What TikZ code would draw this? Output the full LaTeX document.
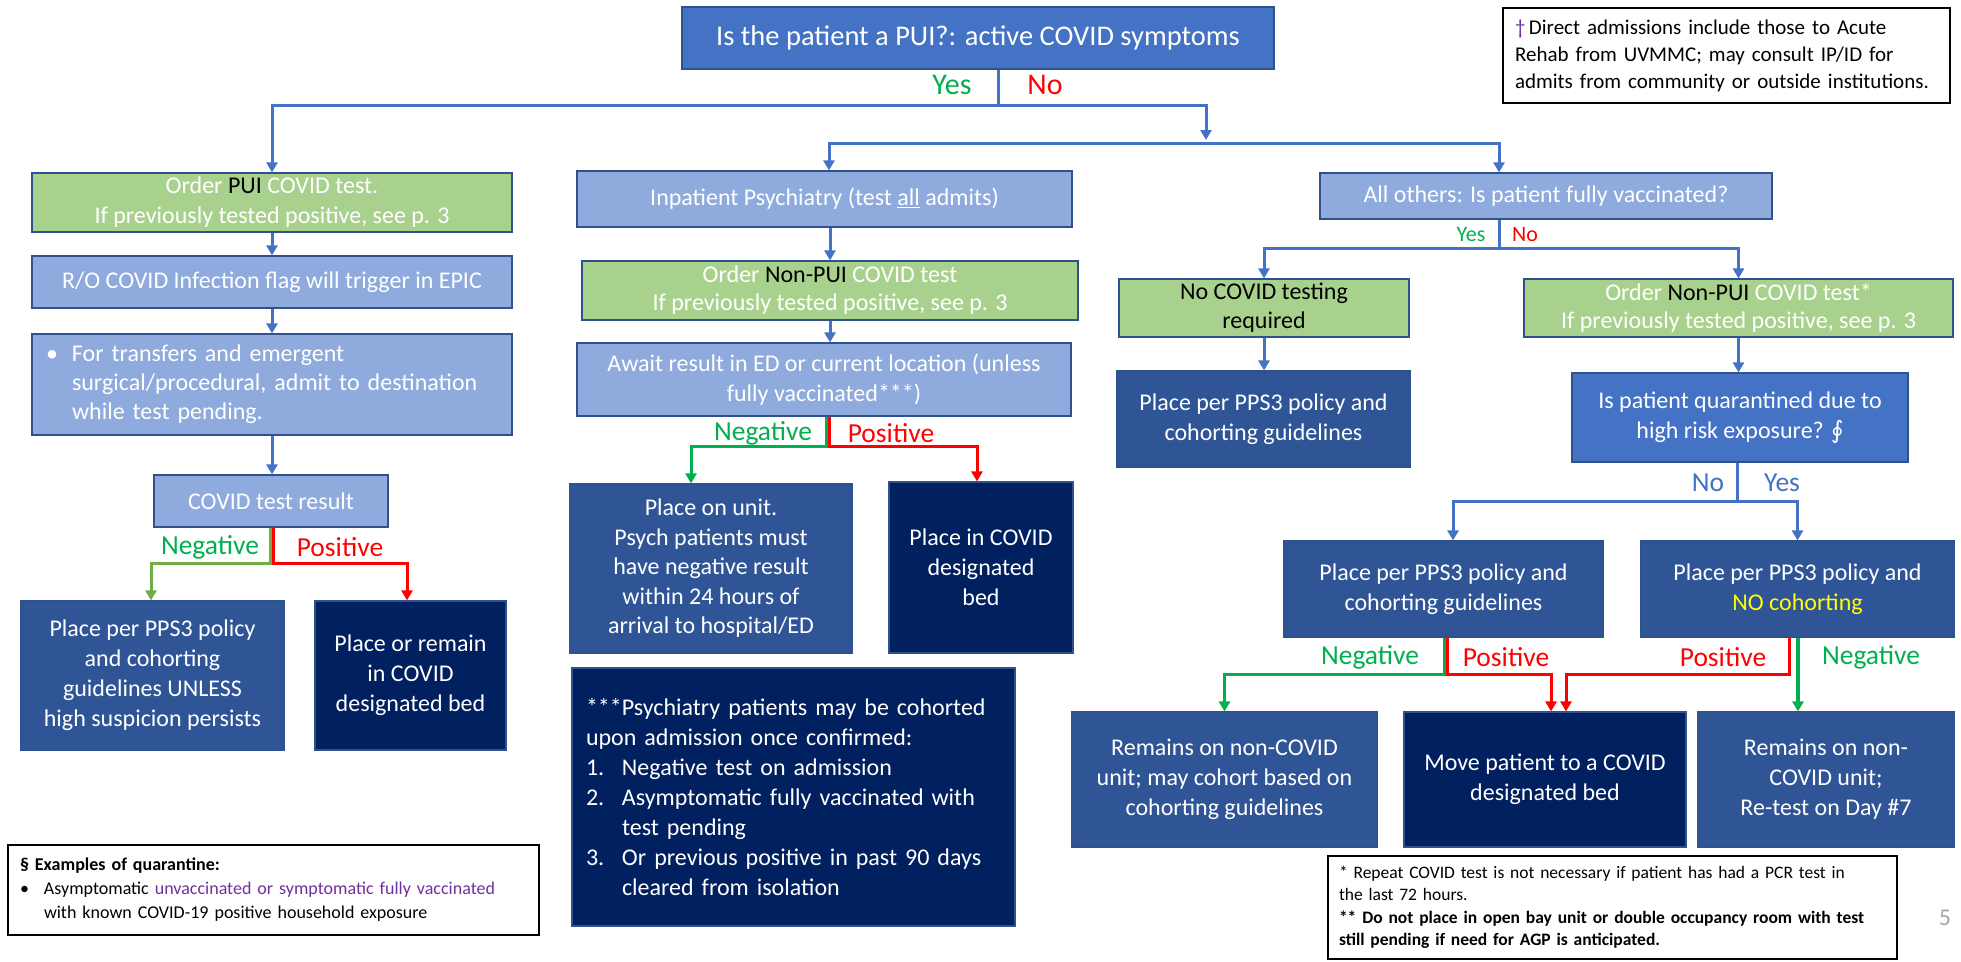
\documentclass[tikz,border=0pt]{standalone}
\usepackage{fontspec}
\setmainfont{Carlito}
\newfontfamily\symfont{DejaVu Sans}
\usetikzlibrary{arrows.meta}
\definecolor{cTop}{HTML}{4472C4}
\definecolor{cLight}{HTML}{8FAADC}
\definecolor{cGreen}{HTML}{A9D18E}
\definecolor{cMid}{HTML}{2F5597}
\definecolor{cNavy}{HTML}{002060}
\definecolor{cEdge}{HTML}{2F528F}
\definecolor{cLineG}{HTML}{00B050}
\definecolor{cOlive}{HTML}{70AD47}
\definecolor{cRed}{HTML}{FF0000}
\definecolor{cPurple}{HTML}{7030A0}
\definecolor{cYellow}{HTML}{FFFF00}
\definecolor{cGray}{HTML}{A6A6A6}
\tikzset{
  box/.style={draw=cEdge, line width=1.2pt, text=white, align=center, inner sep=2pt,
    font=\fontsize{24}{30}\selectfont},
  topbox/.style={box, fill=cTop},
  lightbox/.style={box, fill=cLight},
  greenbox/.style={box, fill=cGreen},
  midbox/.style={box, fill=cMid},
  navybox/.style={box, fill=cNavy},
  notebox/.style={draw=black, line width=1.5pt, fill=white, text=black, align=left, inner xsep=14pt},
  conn/.style={draw=cTop, line width=3pt},
  arr/.style={conn, -{Triangle[length=10pt,width=11pt]}},
  garr/.style={draw=cLineG, line width=3pt, -{Triangle[length=10pt,width=11pt]}},
  oarr/.style={draw=cOlive, line width=3pt, -{Triangle[length=10pt,width=11pt]}},
  rarr/.style={draw=cRed, line width=3pt, -{Triangle[length=10pt,width=11pt]}},
  biglab/.style={inner sep=0pt, font=\fontsize{30}{32}\selectfont},
  lab/.style={inner sep=0pt, font=\fontsize{27.5}{30}\selectfont},
  smalllab/.style={inner sep=0pt, font=\fontsize{22}{24}\selectfont},
}
\begin{document}
\begin{tikzpicture}[x=1pt,y=-1pt]
\useasboundingbox[fill=white] (0,0) rectangle (1961,961);

% ---- boxes ----
\node[topbox, minimum width=592pt, minimum height=62pt, font=\fontsize{28.5}{32}\selectfont] (q) at (978,38) {Is the patient a PUI?: active COVID symptoms};

\node[greenbox, minimum width=480pt, minimum height=59pt] (pui) at (272,202.5) {Order {\color{black}PUI} COVID test.\\If previously tested positive, see p. 3};
\node[lightbox, minimum width=480pt, minimum height=52pt] (ro) at (272,282) {R/O COVID Infection flag will trigger in EPIC};
\node[lightbox, minimum width=480pt, minimum height=101pt, text width=452pt, inner xsep=14pt, align=left, font=\fontsize{24}{29}\selectfont] (bul) at (272,384.5) {\makebox[26pt][l]{•}For transfers and emergent\\\hspace*{26pt}surgical/procedural, admit to destination\\\hspace*{26pt}while test pending.};
\node[lightbox, minimum width=234pt, minimum height=52pt] (res) at (271,501) {COVID test result};
\node[midbox, minimum width=263pt, minimum height=149pt] (ppsL) at (152.5,675.5) {Place per PPS3 policy\\and cohorting\\guidelines UNLESS\\high suspicion persists};
\node[navybox, minimum width=191pt, minimum height=149pt] (remain) at (410.5,675.5) {Place or remain\\in COVID\\designated bed};

\node[lightbox, minimum width=495pt, minimum height=56pt] (psych) at (824.5,199) {Inpatient Psychiatry (test \underline{all} admits)};
\node[greenbox, minimum width=496pt, minimum height=59pt, font=\fontsize{24}{28}\selectfont] (np1) at (830,290.5) {Order {\color{black}Non-PUI} COVID test\\If previously tested positive, see p. 3};
\node[lightbox, minimum width=494pt, minimum height=73pt] (await) at (824,379.5) {Await result in ED or current location (unless\\fully vaccinated***)};
\node[midbox, minimum width=282pt, minimum height=169pt, font=\fontsize{24}{29.5}\selectfont] (unit) at (711,568.5) {Place on unit.\\Psych patients must\\have negative result\\within 24 hours of\\arrival to hospital/ED};
\node[navybox, minimum width=184pt, minimum height=171pt] (covbed) at (981,567.5) {Place in COVID\\designated\\bed};
\node[navybox, minimum width=443pt, minimum height=258pt, text width=415pt, inner xsep=14pt, align=left, font=\fontsize{24}{30}\selectfont] (psn) at (793.5,797) {***Psychiatry patients may be cohorted\\upon admission once confirmed:\\\makebox[36pt][l]{1.}Negative test on admission\\\makebox[36pt][l]{2.}Asymptomatic fully vaccinated with\\\hspace*{36pt}test pending\\\makebox[36pt][l]{3.}Or previous positive in past 90 days\\\hspace*{36pt}cleared from isolation};

\node[lightbox, minimum width=452pt, minimum height=46pt] (others) at (1546,196) {All others: Is patient fully vaccinated?};
\node[greenbox, minimum width=290pt, minimum height=58pt, text=black, font=\fontsize{24}{29}\selectfont] (nocov) at (1264,308) {No COVID testing\\required};
\node[greenbox, minimum width=429pt, minimum height=58pt, font=\fontsize{24}{28}\selectfont] (np2) at (1738.5,308) {Order {\color{black}Non-PUI} COVID test*\\If previously tested positive, see p. 3};
\node[midbox, minimum width=293pt, minimum height=96pt] (ppsR1) at (1263.5,419) {Place per PPS3 policy and\\cohorting guidelines};
\node[topbox, minimum width=336pt, minimum height=89pt] (quar) at (1740,417.5) {Is patient quarantined due to\\high risk exposure? {\symfont\fontsize{24}{28}\selectfont ∮}};
\node[midbox, minimum width=319pt, minimum height=96pt] (ppsR2) at (1443.5,589) {Place per PPS3 policy and\\cohorting guidelines};
\node[midbox, minimum width=313pt, minimum height=96pt] (ppsR3) at (1797.5,589) {Place per PPS3 policy and\\{\color{cYellow}NO cohorting}};
\node[midbox, minimum width=305pt, minimum height=135pt] (rem1) at (1224.5,779.5) {Remains on non-COVID\\unit; may cohort based on\\cohorting guidelines};
\node[navybox, minimum width=282pt, minimum height=135pt] (move) at (1545,779.5) {Move patient to a COVID\\designated bed};
\node[midbox, minimum width=256pt, minimum height=135pt] (rem2) at (1826,779.5) {Remains on non-\\COVID unit;\\Re-test on Day \#7};

% ---- notes ----
\node[notebox, minimum width=447pt, minimum height=95pt, text width=423pt, inner xsep=12pt, font=\fontsize{21}{27}\selectfont] (dag) at (1726.5,55.5) {{\color{cPurple}†}\,Direct admissions include those to Acute\\Rehab from UVMMC; may consult IP/ID for\\admits from community or outside institutions.};
\node[notebox, minimum width=531pt, minimum height=90pt, text width=507pt, inner xsep=12pt, font=\fontsize{18}{24}\selectfont] (sect) at (273.5,890) {\textbf{§ Examples of quarantine:}\\\makebox[24pt][l]{•}Asymptomatic {\color{cPurple}unvaccinated or symptomatic fully vaccinated}\\\hspace*{24pt}with known COVID-19 positive household exposure};
\node[notebox, minimum width=569pt, minimum height=103pt, text width=547pt, inner xsep=11pt, font=\fontsize{17.5}{22.5}\selectfont] (notes) at (1612.5,907.5) {* Repeat COVID test is not necessary if patient has had a PCR test in\\the last 72 hours.\\\textbf{** Do not place in open bay unit or double occupancy room with test}\\\textbf{still pending if need for AGP is anticipated.}};
\node[inner sep=0pt, text=cGray, font=\fontsize{24}{26}\selectfont] (pg) at (1945,918) {5};

% ---- top split ----
\coordinate (t1) at (998,105);
\coordinate (t2) at (1206,140);
\coordinate (hL) at (829,143);
\coordinate (hR) at (1499,143);
\draw[conn] (q.south -| t1) -- (t1);
\draw[arr] (t1) -| (pui.north);
\draw[arr] (t1) -| (t2);
\draw[arr] (hR) -| (hL |- psych.north);
\draw[arr] (hL) -| (hR |- others.north);
\node[biglab, text=cLineG] (yes1) at (952,85) {Yes};
\node[biglab, text=cRed] (no1) at (1045,85) {No};

% ---- left column ----
\draw[arr] (pui.south) -- (pui.south |- ro.north);
\draw[arr] (ro.south) -- (ro.south |- bul.north);
\draw[arr] (bul.south) -- (bul.south |- res.north);
\coordinate (sgL) at (270.5,563);
\coordinate (srL) at (273.5,563);
\coordinate (xc) at (151,0);
\coordinate (xd) at (407,0);
\draw[oarr] (sgL |- res.south) -- (sgL) -| (xc |- ppsL.north);
\draw[rarr] (srL |- res.south) -- (srL) -| (xd |- remain.north);
\node[lab, text=cLineG] (negL) at (210,547) {Negative};
\node[lab, text=cRed] (posL) at (340,547) {Positive};

% ---- psychiatry column ----
\draw[arr] (psych.south -| np1.north) -- (np1.north);
\draw[arr] (np1.south) -- (np1.south |- await.north);
\coordinate (sg1) at (826.5,446);
\coordinate (sr1) at (829.5,446);
\coordinate (xa) at (691,0);
\coordinate (xb) at (977,0);
\draw[garr] (sg1 |- await.south) -- (sg1) -| (xa |- unit.north);
\draw[rarr] (sr1 |- await.south) -- (sr1) -| (xb |- covbed.north);
\node[lab, text=cLineG] (negP) at (763,433) {Negative};
\node[lab, text=cRed] (posP) at (891,433) {Positive};

% ---- others column ----
\coordinate (o1) at (1499,248);
\draw[conn] (o1 |- others.south) -- (o1);
\draw[arr] (o1) -| (nocov.north);
\draw[arr] (o1) -| (np2.north);
\node[smalllab, text=cLineG] (yes2) at (1471,235) {Yes};
\node[smalllab, text=cRed] (no2) at (1525,235) {No};
\draw[arr] (nocov.south) -- (nocov.south |- ppsR1.north);
\draw[arr] (np2.south) -- (np2.south |- quar.north);
\coordinate (q2) at (1737,501);
\coordinate (xf) at (1453,0);
\draw[conn] (q2 |- quar.south) -- (q2);
\draw[arr] (q2) -| (xf |- ppsR2.north);
\draw[arr] (q2) -| (ppsR3.north);
\node[lab, text=cTop] (no3) at (1708,483) {No};
\node[lab, text=cTop] (yes3) at (1782,483) {Yes};

% ---- bottom right ----
\coordinate (sg2) at (1444.5,674);
\coordinate (sr2) at (1447.5,674);
\coordinate (xg) at (1551,0);
\coordinate (sr3) at (1789,674);
\coordinate (xh) at (1566,0);
\coordinate (xi) at (1798,0);
\draw[garr] (sg2 |- ppsR2.south) -- (sg2) -| (rem1.north);
\draw[rarr] (sr2 |- ppsR2.south) -- (sr2) -| (xg |- move.north);
\draw[rarr] (sr3 |- ppsR3.south) -- (sr3) -| (xh |- move.north);
\draw[garr, line width=4pt] (xi |- ppsR3.south) -- (xi |- rem2.north);
\node[lab, text=cLineG] (negR1) at (1370,657) {Negative};
\node[lab, text=cRed] (posR1) at (1506,657) {Positive};
\node[lab, text=cRed] (posR2) at (1723,657) {Positive};
\node[lab, text=cLineG] (negR2) at (1871,657) {Negative};
\end{tikzpicture}
\end{document}
